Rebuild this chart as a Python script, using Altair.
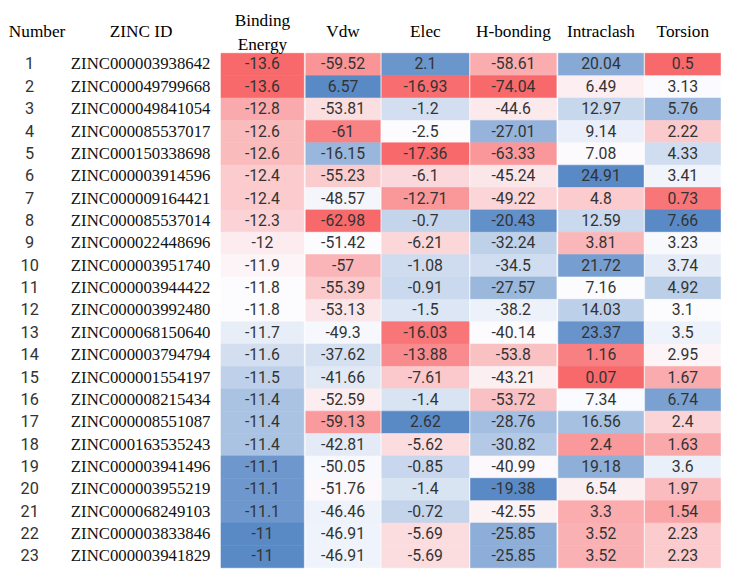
import altair as alt
import numpy as np
import pandas as pd

# ---------------- data ----------------
numbers = list(range(1, 24))
zinc_ids = [
    "ZINC000003938642", "ZINC000049799668", "ZINC000049841054", "ZINC000085537017",
    "ZINC000150338698", "ZINC000003914596", "ZINC000009164421", "ZINC000085537014",
    "ZINC000022448696", "ZINC000003951740", "ZINC000003944422", "ZINC000003992480",
    "ZINC000068150640", "ZINC000003794794", "ZINC000001554197", "ZINC000008215434",
    "ZINC000008551087", "ZINC000163535243", "ZINC000003941496", "ZINC000003955219",
    "ZINC000068249103", "ZINC000003833846", "ZINC000003941829",
]
binding_energy = [-13.6, -13.6, -12.8, -12.6, -12.6, -12.4, -12.4, -12.3, -12, -11.9, -11.8, -11.8,
                  -11.7, -11.6, -11.5, -11.4, -11.4, -11.4, -11.1, -11.1, -11.1, -11, -11]
vdw = [-59.52, 6.57, -53.81, -61, -16.15, -55.23, -48.57, -62.98, -51.42, -57, -55.39, -53.13,
       -49.3, -37.62, -41.66, -52.59, -59.13, -42.81, -50.05, -51.76, -46.46, -46.91, -46.91]
elec = [2.1, -16.93, -1.2, -2.5, -17.36, -6.1, -12.71, -0.7, -6.21, -1.08, -0.91, -1.5,
        -16.03, -13.88, -7.61, -1.4, 2.62, -5.62, -0.85, -1.4, -0.72, -5.69, -5.69]
h_bonding = [-58.61, -74.04, -44.6, -27.01, -63.33, -45.24, -49.22, -20.43, -32.24, -34.5, -27.57, -38.2,
             -40.14, -53.8, -43.21, -53.72, -28.76, -30.82, -40.99, -19.38, -42.55, -25.85, -25.85]
intraclash = [20.04, 6.49, 12.97, 9.14, 7.08, 24.91, 4.8, 12.59, 3.81, 21.72, 7.16, 14.03,
              23.37, 1.16, 0.07, 7.34, 16.56, 2.4, 19.18, 6.54, 3.3, 3.52, 3.52]
torsion = [0.5, 3.13, 5.76, 2.22, 4.33, 3.41, 0.73, 7.66, 3.23, 3.74, 4.92, 3.1,
           3.5, 2.95, 1.67, 6.74, 2.4, 1.63, 3.6, 1.97, 1.54, 2.23, 2.23]

heat_columns = [
    ("Binding Energy", binding_energy),
    ("Vdw", vdw),
    ("Elec", elec),
    ("H-bonding", h_bonding),
    ("Intraclash", intraclash),
    ("Torsion", torsion),
]

# ---------------- layout / style ----------------
ROW_H = 22.68
H = ROW_H * len(numbers)
heat_widths = [84, 75.5, 88.5, 87, 86.5, 76.5]
RED, WHITE, BLUE = "#F8696B", "#FCFCFF", "#5A8AC6"
SERIF = "Liberation Serif"
SANS = "Roboto"
PAD_SINGLE = 17
PAD_DOUBLE = 28


def top_axis(pad, offset=0):
    return alt.Axis(orient="top", title=None, labelPadding=pad, labelOffset=offset)


def text_col(header, labels, width, font, size, color, dx=0, head_offset=0):
    df = pd.DataFrame({"row": numbers, "col": header, "label": labels})
    return (
        alt.Chart(df)
        .mark_text(font=font, fontSize=size, color=color, dx=dx)
        .encode(
            x=alt.X("col:N", axis=top_axis(PAD_SINGLE, head_offset)),
            y=alt.Y("row:O", axis=None, scale=alt.Scale(round=False)),
            text="label:N",
        )
        .properties(width=width, height=H)
    )


def heat_col(name, vals, width):
    df = pd.DataFrame({
        "row": numbers,
        "col": name,
        "value": vals,
        "label": [f"{v:g}" for v in vals],
    })
    dom = [float(np.min(vals)), float(np.median(vals)), float(np.max(vals))]
    pad = PAD_DOUBLE if " " in name else PAD_SINGLE
    base = alt.Chart(df).encode(
        x=alt.X("col:N", axis=top_axis(pad),
                scale=alt.Scale(paddingInner=0, paddingOuter=0, round=False)),
        y=alt.Y("row:O", axis=None,
                scale=alt.Scale(paddingInner=0, paddingOuter=0, round=False)),
    )
    cscale = alt.Scale(domain=dom, range=[RED, WHITE, BLUE], interpolate="rgb")
    rect = base.mark_rect(strokeWidth=0.6).encode(
        color=alt.Color("value:Q", scale=cscale, legend=None),
        stroke=alt.Stroke("value:Q", scale=cscale, legend=None),
    )
    text = base.mark_text(font=SANS, fontSize=16, color="#333333").encode(text="label:N")
    return (rect + text).properties(width=width, height=H)


cols = [
    text_col("Number", [str(n) for n in numbers], 58, SANS, 16.5, "#333333", dx=-7),
    text_col("ZINC ID", zinc_ids, 157, SERIF, 17, "#111111", dx=-2, head_offset=-2),
]
for (name, vals), w in zip(heat_columns, heat_widths):
    cols.append(heat_col(name, vals, w))

chart = (
    alt.hconcat(*cols, spacing=0)
    .resolve_scale(color="independent", stroke="independent")
    .properties(padding=0)
    .configure_view(stroke=None)
    .configure_axis(
        domain=False,
        ticks=False,
        grid=False,
        labelFont=SERIF,
        labelFontSize=17.5,
        labelColor="#000000",
        labelAngle=0,
        labelBaseline="alphabetic",
        labelLineHeight=24,
        labelExpr="datum.label == 'Binding Energy' ? ['Binding', 'Energy'] : datum.label",
    )
)

chart.save("out.html", embed_options={"renderer": "svg", "actions": False})
